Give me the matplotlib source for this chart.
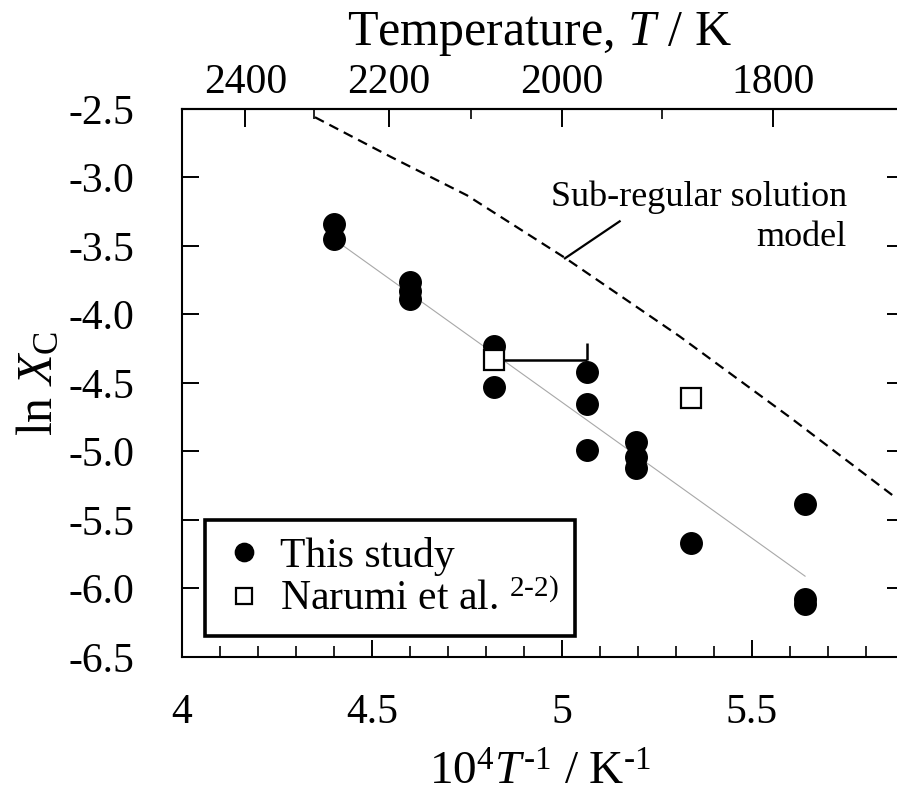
#!/usr/bin/env python3
"""Carbon solubility (ln X_C) vs inverse temperature, with sub-regular solution model."""

import matplotlib

matplotlib.use("Agg")
import matplotlib.pyplot as plt
from matplotlib.ticker import FixedLocator, MultipleLocator, NullFormatter

# --- data ---
study_x = [4.40, 4.40, 4.60, 4.60, 4.60, 4.82, 4.82, 5.065, 5.065, 5.065,
           5.195, 5.195, 5.195, 5.34, 5.64, 5.64, 5.64]
study_y = [-3.34, -3.45, -3.76, -3.83, -3.89, -4.23, -4.53, -4.42, -4.65, -4.99,
           -4.93, -5.04, -5.12, -5.67, -5.38, -6.08, -6.11]

narumi_x = [4.82, 5.34]
narumi_y = [-4.33, -4.61]
narumi_xerr_hi = [0.245, 0.0]

fit_x = [4.40, 5.64]
fit_y = [-3.45, -5.91]

model_x = [4.35, 4.55, 4.75, 5.01, 5.31, 5.60, 5.88]
model_y = [-2.56, -2.85, -3.13, -3.59, -4.16, -4.75, -5.34]

temp_major = [2400, 2200, 2000, 1800]
temp_minor = [2300, 2100, 1900]

yticks = [-2.5, -3.0, -3.5, -4.0, -4.5, -5.0, -5.5, -6.0, -6.5]
xticks = [4, 4.5, 5, 5.5]

plt.rcParams["font.family"] = ["Liberation Serif", "DejaVu Serif"]
plt.rcParams["mathtext.fontset"] = "custom"
plt.rcParams["mathtext.rm"] = "Liberation Serif"
plt.rcParams["mathtext.it"] = "Liberation Serif:italic"
plt.rcParams["mathtext.bf"] = "Liberation Serif:bold"

fig = plt.figure(figsize=(8.97, 7.95), dpi=100)
ax = fig.add_axes([0.2029, 0.1736, 0.7971, 0.6893])

ax.set_xlim(4.0, 5.882)
ax.set_ylim(-6.5, -2.5)

# model curve and leader
ax.plot(model_x, model_y, color="black", lw=1.6, ls=(0, (4.5, 2.8)), zorder=2)
ax.plot([5.008, 5.152], [-3.59, -3.32], color="black", lw=1.6, zorder=2)
ax.text(5.75, -3.29, "Sub-regular solution\nmodel", ha="right", va="center",
        fontsize=26, linespacing=1.25)

# regression line
ax.plot(fit_x, fit_y, color="#a8a8a8", lw=0.8, zorder=1)

# data
ax.plot(study_x, study_y, ls="none", marker="o", ms=15.5, color="black",
        label="This study", zorder=3)
ax.errorbar(narumi_x, narumi_y, xerr=[[0, 0], narumi_xerr_hi], fmt="none",
            ecolor="black", elinewidth=1.8, capsize=0, zorder=3)
ax.vlines(narumi_x[0] + narumi_xerr_hi[0], narumi_y[0], narumi_y[0] + 0.12,
          color="black", lw=1.8, zorder=3)
ax.plot(narumi_x, narumi_y, ls="none", marker="s", ms=14, mfc="white",
        mec="black", mew=1.6, label=r"Narumi et al. $^{2\text{-}2)}$", zorder=4)

# axes styling
for sp in ax.spines.values():
    sp.set_linewidth(1.5)
ax.spines["right"].set_visible(False)

ax.set_xticks(xticks)
ax.set_xticklabels(["4", "4.5", "5", "5.5"])
ax.xaxis.set_minor_locator(MultipleLocator(0.1))
ax.set_yticks(yticks)
ax.set_yticklabels([f"{v:.1f}" for v in yticks])
ax.tick_params(axis="x", which="major", direction="in", length=12, width=1.4,
               labelsize=30, pad=26)
ax.tick_params(axis="x", which="minor", direction="in", length=8, width=1.2)
ax.tick_params(axis="y", which="major", direction="in", length=12, width=1.4,
               labelsize=30, pad=34)

ax.set_xlabel(r"10$^{4}$$T^{\text{-}1}$ / K$^{\text{-}1}$", fontsize=34, labelpad=15)
ax.set_ylabel(r"ln $X_{\mathrm{C}}$", fontsize=36, labelpad=4)

# right-hand ticks only (no labels)
right = ax.secondary_yaxis("right")
right.yaxis.set_major_locator(FixedLocator(yticks))
right.yaxis.set_major_formatter(NullFormatter())
right.tick_params(direction="in", length=7, width=1.4)
right.spines["right"].set_visible(False)

# top temperature axis
top = ax.secondary_xaxis("top", functions=(lambda x: 1e4 / x, lambda t: 1e4 / t))
top.xaxis.set_major_locator(FixedLocator(temp_major))
top.xaxis.set_minor_locator(FixedLocator(temp_minor))
top.tick_params(which="major", direction="in", length=13, width=1.4,
                labelsize=30, pad=5)
top.tick_params(which="minor", direction="in", length=7, width=1.2)
top.spines["top"].set_linewidth(1.5)
top.set_xlabel(r"Temperature, $T$ / K", fontsize=36, labelpad=13)

leg = ax.legend(loc="lower left", bbox_to_anchor=(0.032, 0.038), fontsize=30,
                frameon=True, fancybox=False, edgecolor="black", framealpha=1,
                handletextpad=0.3, borderpad=0.4, labelspacing=0.12,
                handlelength=1.1, borderaxespad=0, markerscale=0.85)
leg.get_frame().set_linewidth(2.6)

fig.savefig("out.png", dpi=100)
